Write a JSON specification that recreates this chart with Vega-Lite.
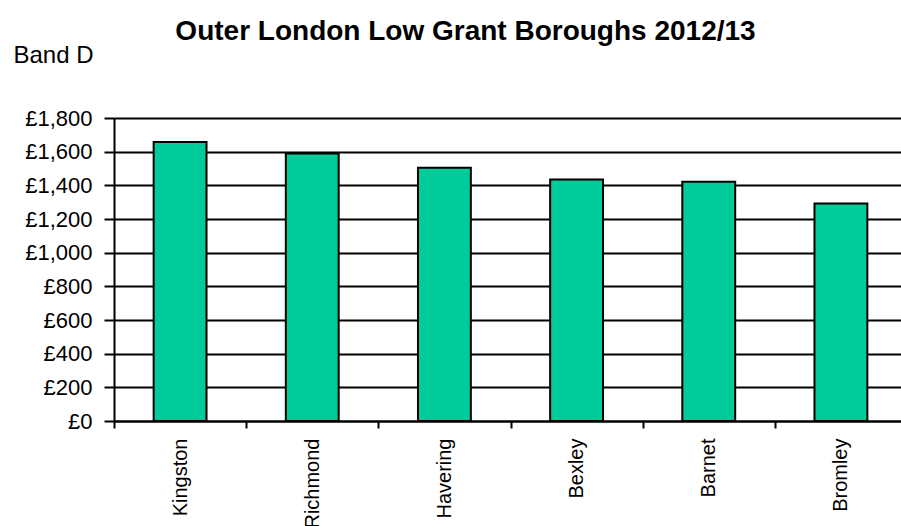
{
  "$schema": "https://vega.github.io/schema/vega-lite/v6.json",
  "autosize": {"type": "none"},
  "width": 793,
  "height": 303,
  "padding": {"left": 114, "top": 118, "right": 0, "bottom": 105},
  "background": "white",
  "title": {
    "text": "Outer London Low Grant Boroughs 2012/13",
    "font": "Liberation Sans",
    "fontSize": 28,
    "fontWeight": "bold",
    "color": "black",
    "anchor": "middle",
    "frame": "group",
    "dx": -45,
    "dy": 13,
    "offset": 10
  },
  "data": {
    "values": [
      {"borough": "Kingston", "bandD": 1658},
      {"borough": "Richmond", "bandD": 1589},
      {"borough": "Havering", "bandD": 1505},
      {"borough": "Bexley", "bandD": 1434},
      {"borough": "Barnet", "bandD": 1421},
      {"borough": "Bromley", "bandD": 1292}
    ]
  },
  "config": {
    "view": {"stroke": null},
    "font": "Liberation Sans"
  },
  "mark": {"type": "bar", "color": "#00CC99", "stroke": "black", "strokeWidth": 2, "width": {"band": 0.4}},
  "encoding": {
    "x": {
      "field": "borough",
      "type": "nominal",
      "sort": null,
      "scale": {"paddingInner": 0, "paddingOuter": 0},
      "axis": {
        "title": null,
        "domainColor": "black",
        "domainWidth": 2,
        "ticks": true,
        "tickColor": "black",
        "tickWidth": 2,
        "tickSize": 7,
        "tickBand": "extent",
        "labelAngle": -90,
        "labelAlign": "right",
        "labelBaseline": "middle",
        "labelPadding": 10,
        "labelFontSize": 20,
        "labelColor": "black",
        "labelFont": "Liberation Sans"
      }
    },
    "y": {
      "field": "bandD",
      "type": "quantitative",
      "scale": {"domain": [0, 1800], "nice": false},
      "axis": {
        "values": [0, 200, 400, 600, 800, 1000, 1200, 1400, 1600, 1800],
        "labelExpr": "'£' + format(datum.value, ',')",
        "labelFontSize": 22,
        "labelColor": "black",
        "labelFont": "Liberation Sans",
        "labelPadding": 12,
        "ticks": true,
        "tickSize": 10,
        "tickColor": "black",
        "tickWidth": 2,
        "domain": true,
        "domainColor": "black",
        "domainWidth": 2,
        "grid": true,
        "gridColor": "black",
        "gridWidth": 2,
        "title": "Band D",
        "titleAngle": 0,
        "titleAlign": "left",
        "titleBaseline": "alphabetic",
        "titleX": -101,
        "titleY": -56,
        "titleFont": "Liberation Sans",
        "titleFontSize": 24,
        "titleFontWeight": "normal",
        "titleColor": "black"
      }
    }
  }
}
